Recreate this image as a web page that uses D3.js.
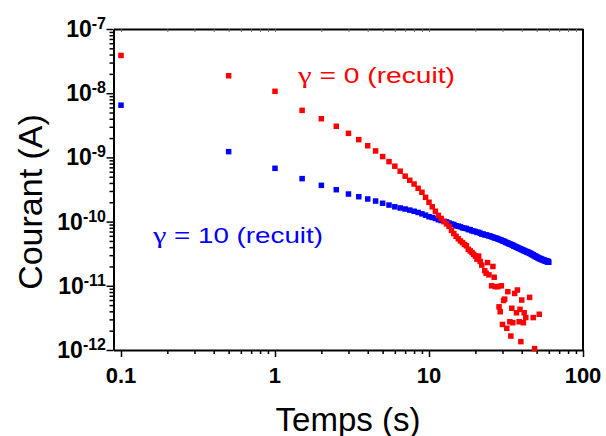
<!DOCTYPE html>
<html>
<head>
<meta charset="utf-8">
<script src="https://cdn.jsdelivr.net/npm/d3@7"></script>
<style>
  html, body { margin: 0; padding: 0; background: #fff; }
  svg { display: block; }
  svg text { font-family: Arial, "Liberation Sans", Helvetica, sans-serif; }
</style>
</head>
<body>
<svg id="chart" width="606" height="436"></svg>
<script>
// ---- data ----
const xTickValues = [0.1, 1, 10, 100];
const xTickLabels = ["0.1", "1", "10", "100"];
const yTickExponents = [-7, -8, -9, -10, -11, -12];

const gammaSymbol = "γ";
const redLabelRest = " = 0 (recuit)";
const blueLabelRest = " = 10 (recuit)";
const xTitle = "Temps (s)";
const yTitle = "Courant (A)";

// gamma = 0 (recuit) : [time (s), current (A)]
const redPoints = [
  [0.1, 3.87e-8], [0.5, 1.87e-8], [1, 1.07e-8], [1.5, 5.4e-9], [2, 4.0e-9],
  [2.5, 3.05e-9], [3, 2.37e-9], [3.5, 1.89e-9], [4, 1.52e-9], [4.5, 1.26e-9],
  [5, 1.03e-9], [5.5, 8.6e-10], [6, 7.3e-10], [6.5, 6.1e-10], [7, 5.1e-10],
  [7.5, 4.4e-10], [8, 3.85e-10], [8.5, 3.3e-10], [9, 2.86e-10], [9.5, 2.39e-10],
  [10, 2.0e-10], [10.5, 1.7e-10], [11, 1.45e-10], [11.5, 1.25e-10], [12, 1.12e-10],
  [12.5, 1.0e-10], [13, 9.2e-11], [13.5, 8.4e-11], [14, 7.3e-11], [14.5, 6.5e-11],
  [15, 5.9e-11], [15.5, 5.4e-11], [16, 5.0e-11], [16.5, 4.7e-11], [17, 4.4e-11],
  [17.5, 4.2e-11], [18, 3.7e-11], [18.5, 3.5e-11], [19, 3.3e-11], [19.5, 3.1e-11],
  [20, 2.9e-11], [20.5, 2.6e-11], [21, 2.9e-11], [21.5, 2.4e-11], [22, 2.1e-11],
  [23, 1.72e-11], [23.5, 1.57e-11], [24, 2.3e-11], [24.5, 1.48e-11], [25.5, 1.0e-11],
  [26, 2.0e-11], [26.5, 1.36e-11], [27, 9.7e-12], [28, 9.7e-12], [28.5, 4.7e-12],
  [29, 3.95e-12], [29.5, 1.0e-11], [30, 2.5e-12], [30.5, 5.9e-12], [31, 6.2e-12],
  [32, 2.18e-12], [32.5, 8.1e-12], [33.5, 2.75e-12], [34, 1.65e-12], [34.5, 4.47e-12],
  [35, 2.66e-12], [36, 7.6e-12], [37, 3.8e-12], [37.5, 8.6e-12], [38.5, 2.75e-12],
  [39, 4.3e-12], [39.5, 1.35e-12], [40, 6.0e-12], [41, 2.66e-12], [41.5, 3.8e-12],
  [42.5, 3.2e-12], [45, 6.6e-12], [47.5, 3.2e-12], [48.5, 1.05e-12], [52, 3.6e-12]
];

// gamma = 10 (recuit) : [time (s), current (A)]
const bluePoints = [
  [0.1, 6.5e-9], [0.5, 1.23e-9], [1, 6.76e-10], [1.5, 4.67e-10], [2, 3.67e-10],
  [2.5, 3.14e-10], [3, 2.69e-10], [3.5, 2.44e-10], [4, 2.25e-10], [4.5, 2.09e-10],
  [5, 1.93e-10], [5.5, 1.81e-10], [6, 1.70e-10], [6.5, 1.63e-10], [7, 1.57e-10],
  [7.5, 1.51e-10], [8, 1.45e-10], [8.5, 1.39e-10], [9, 1.32e-10], [9.5, 1.26e-10],
  [10, 1.19e-10], [10.5, 1.16e-10], [11, 1.12e-10], [11.5, 1.07e-10], [12, 1.04e-10],
  [12.5, 1.01e-10], [13, 9.9e-11], [13.5, 9.5e-11], [14, 9.2e-11], [14.5, 9.0e-11],
  [15, 8.6e-11], [15.5, 8.5e-11], [16, 8.3e-11], [16.5, 8.0e-11], [17, 7.9e-11],
  [17.5, 7.8e-11], [18, 7.5e-11], [18.5, 7.5e-11], [19, 7.2e-11], [19.5, 7.1e-11],
  [20, 7.0e-11], [20.5, 6.8e-11], [21, 6.8e-11], [21.5, 6.6e-11], [22, 6.4e-11],
  [22.5, 6.4e-11], [23, 6.2e-11], [23.5, 6.2e-11], [24, 6.1e-11], [24.5, 5.95e-11],
  [25, 5.95e-11], [25.5, 5.8e-11], [26, 5.75e-11], [26.5, 5.6e-11], [27, 5.55e-11],
  [27.5, 5.5e-11], [28, 5.35e-11], [28.5, 5.3e-11], [29, 5.2e-11], [29.5, 5.15e-11],
  [30, 5.0e-11], [30.5, 4.95e-11], [31, 4.9e-11], [31.5, 4.75e-11], [32, 4.7e-11],
  [32.5, 4.65e-11], [33, 4.5e-11], [33.5, 4.5e-11], [34, 4.4e-11], [34.5, 4.35e-11],
  [35, 4.3e-11], [35.5, 4.15e-11], [36, 4.15e-11], [36.5, 4.05e-11], [37, 4.0e-11],
  [37.5, 3.95e-11], [38, 3.85e-11], [38.5, 3.85e-11], [39, 3.75e-11], [39.5, 3.75e-11],
  [40, 3.65e-11], [40.5, 3.65e-11], [41, 3.55e-11], [41.5, 3.55e-11], [42, 3.45e-11],
  [42.5, 3.45e-11], [43, 3.35e-11], [43.5, 3.4e-11], [44, 3.3e-11], [44.5, 3.3e-11],
  [45, 3.2e-11], [45.5, 3.22e-11], [46, 3.12e-11], [46.5, 3.12e-11], [47, 3.02e-11],
  [47.5, 3.05e-11], [48, 2.95e-11], [48.5, 2.95e-11], [49, 2.85e-11], [49.5, 2.88e-11],
  [50, 2.78e-11], [50.5, 2.8e-11], [51, 2.72e-11], [51.5, 2.72e-11], [52, 2.65e-11],
  [52.5, 2.68e-11], [53, 2.6e-11], [53.5, 2.62e-11], [54, 2.55e-11], [54.5, 2.58e-11],
  [55, 2.5e-11], [55.5, 2.53e-11], [56, 2.45e-11], [56.5, 2.5e-11], [57, 2.42e-11],
  [57.5, 2.46e-11], [58, 2.38e-11], [58.5, 2.43e-11], [59, 2.35e-11], [59.5, 2.4e-11],
  [60, 2.33e-11]
];

// ---- layout ----
const svg = d3.select("#chart");
const plotL = 113.5, plotR = 583, plotT = 29, plotB = 350;

const x = d3.scaleLog().domain([0.0894, 100]).range([plotL, plotR]);
const y = d3.scaleLog().domain([1e-12, 1e-7]).range([plotB, plotT]);

// minor tick positions
const xMinor = [];
[0.1, 1, 10].forEach(d => { for (let k = 2; k <= 9; k++) xMinor.push(d * k); });
const yMinor = [];
[1e-12, 1e-11, 1e-10, 1e-9, 1e-8].forEach(d => { for (let k = 2; k <= 9; k++) yMinor.push(d * k); });
const yMajor = yTickExponents.map(e => Math.pow(10, e));

// bottom axis
const gx = svg.append("g").attr("transform", `translate(0,${plotB})`);
gx.call(d3.axisBottom(x).tickValues(xTickValues).tickFormat("").tickSize(7).tickSizeOuter(0));
gx.append("g").call(d3.axisBottom(x).tickValues(xMinor).tickFormat("").tickSize(4).tickSizeOuter(0))
  .select(".domain").remove();

// left axis
const gy = svg.append("g").attr("transform", `translate(${plotL},0)`);
gy.call(d3.axisLeft(y).tickValues(yMajor).tickFormat("").tickSize(7).tickSizeOuter(0));
gy.append("g").call(d3.axisLeft(y).tickValues(yMinor).tickFormat("").tickSize(4).tickSizeOuter(0))
  .select(".domain").remove();

// top axis (ticks inward)
const gt = svg.append("g").attr("transform", `translate(0,${plotT})`);
gt.call(d3.axisBottom(x).tickValues(xTickValues.concat(xMinor).filter(d => d < 100)).tickFormat("").tickSize(3).tickSizeOuter(0));
gt.selectAll(".tick line").attr("stroke", "#666");

// right axis line
svg.append("line").attr("x1", plotR).attr("x2", plotR).attr("y1", plotT).attr("y2", plotB)
  .attr("stroke", "#000").attr("stroke-width", 2);

svg.selectAll(".domain").attr("stroke", "#000").attr("stroke-width", 2);
gx.selectAll(".tick line").attr("stroke-width", 1.5);
gy.selectAll(".tick line").attr("stroke-width", 1.5);

// x tick labels
svg.append("g").selectAll("text").data(xTickValues).join("text")
  .attr("x", d => x(d)).attr("y", 383)
  .attr("text-anchor", "middle")
  .attr("font-size", 22).attr("font-weight", "bold")
  .text((d, i) => xTickLabels[i]);

// y tick labels
const yl = svg.append("g").selectAll("text").data(yTickExponents).join("text")
  .attr("x", 106).attr("y", d => y(Math.pow(10, d)) + 8)
  .attr("text-anchor", "end")
  .attr("font-size", 23).attr("font-weight", "bold");
yl.append("tspan").text("10");
yl.append("tspan").attr("font-size", 16).attr("dy", -8).text(d => String(d));

// axis titles
svg.append("text").attr("x", 348).attr("y", 431).attr("text-anchor", "middle")
  .attr("font-size", 33).text(xTitle);
svg.append("text").attr("transform", "translate(42,202) rotate(-90)")
  .attr("text-anchor", "middle").attr("font-size", 34).text(yTitle);

// data marks
const sz = 5.5;
svg.append("g").selectAll("rect").data(bluePoints).join("rect")
  .attr("x", d => x(d[0]) - sz / 2).attr("y", d => y(d[1]) - sz / 2)
  .attr("width", sz).attr("height", sz).attr("fill", "#0000ff");
svg.append("g").selectAll("rect").data(redPoints).join("rect")
  .attr("x", d => x(d[0]) - sz / 2).attr("y", d => y(d[1]) - sz / 2)
  .attr("width", sz).attr("height", sz).attr("fill", "#ff0000");

// series labels
function seriesLabel(xp, yp, len, color, rest) {
  const t = svg.append("text").attr("x", xp).attr("y", yp).attr("font-size", 22)
    .attr("fill", color).attr("textLength", len).attr("lengthAdjust", "spacingAndGlyphs");
  t.append("tspan").style("font-family", '"Liberation Serif", "DejaVu Serif", serif')
    .attr("font-size", 24).text(gammaSymbol);
  t.append("tspan").text(rest);
}
seriesLabel(298, 83, 157, "#ff0000", redLabelRest);
seriesLabel(153, 243, 170, "#0000ff", blueLabelRest);
</script>
</body>
</html>
